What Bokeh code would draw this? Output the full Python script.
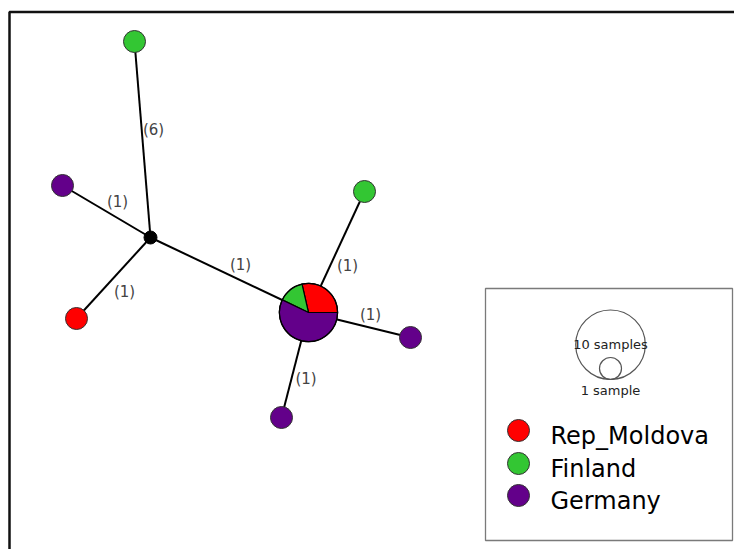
import numpy as np
from bokeh.plotting import figure
from bokeh.models import Range1d
from bokeh.core.properties import value
from bokeh.embed import file_html
from bokeh.resources import INLINE

# ---- data -------------------------------------------------------------
populations = ["Rep_Moldova", "Finland", "Germany"]
pop_colors = ["#ff0000", "#33c633", "#63008a"]

# haplotype nodes: layout position (network layout units) and sample counts per population
node_names = ["H1", "H2", "H3", "H4", "H5", "H6", "H7"]
node_x = [308, 134, 62, 76, 364, 410, 281]
node_y = [237, 508, 364, 231, 358, 212, 132]
count_moldova = [2, 0, 0, 1, 0, 0, 0]
count_finland = [1, 1, 0, 0, 1, 0, 0]
count_germany = [4, 0, 1, 0, 0, 1, 1]

# median (inferred) vertex
median_names = ["M1"]
median_x = [150]
median_y = [312]

# edges with number of mutations
edge_from = ["M1", "M1", "M1", "M1", "H1", "H1", "H1"]
edge_to = ["H2", "H3", "H4", "H1", "H5", "H6", "H7"]
edge_mutations = [6, 1, 1, 1, 1, 1, 1]

legend_sizes = [10, 1]
legend_size_labels = ["10 samples", "1 sample"]

# ---- figure -----------------------------------------------------------
W, H = 734, 549
p = figure(width=W, height=H, output_backend="svg", toolbar_location=None,
           x_range=Range1d(0, W), y_range=Range1d(0, H),
           x_axis_type=None, y_axis_type=None, min_border=0)
p.outline_line_color = None
p.grid.visible = False
p.background_fill_color = "white"

# outer frame (left and top edges visible)
p.line([9, 9, W + 20], [-20, 537.5, 537.5], line_color="#111111", line_width=2.5)

pos = {n: (x, y) for n, x, y in zip(node_names, node_x, node_y)}
pos.update({n: (x, y) for n, x, y in zip(median_names, median_x, median_y)})

R1 = 11.0  # radius of a single-sample node (px)
totals = [a + b + c for a, b, c in zip(count_moldova, count_finland, count_germany)]
radii = [R1 * np.sqrt(t) for t in totals]

# edges
xs = [[pos[a][0], pos[b][0]] for a, b in zip(edge_from, edge_to)]
ys = [[pos[a][1], pos[b][1]] for a, b in zip(edge_from, edge_to)]
p.multi_line(xs, ys, line_color="black", line_width=2)

# edge labels at midpoints
lx, ly, lt = [], [], []
for (x0, x1), (y0, y1), m in zip(xs, ys, edge_mutations):
    mx, my = (x0 + x1) / 2, (y0 + y1) / 2
    slope = (y1 - y0) / (x1 - x0) if x1 != x0 else 1.0
    lx.append(mx + 11)
    ly.append(my + 10 if slope < 0 else my - 14)
    lt.append(f"({m})")
p.text(lx, ly, text=lt, text_font=value("DejaVu Sans"), text_font_size="15px",
       text_color="#444444", text_align="center", text_baseline="middle")

# median vertex
p.scatter(median_x, median_y, size=13, fill_color="black", line_color="black")

# haplotype nodes: single-population nodes as circles, mixed nodes as pies
counts = list(zip(count_moldova, count_finland, count_germany))
for n, x, y, c, r, t in zip(node_names, node_x, node_y, counts, radii, totals):
    nonzero = [i for i, v in enumerate(c) if v > 0]
    if len(nonzero) == 1:
        p.circle(x=[x], y=[y], radius=r, fill_color=pop_colors[nonzero[0]],
                 line_color="#333333", line_width=1)
    else:
        start = 0.0
        for i, v in enumerate(c):
            if v == 0:
                continue
            end = start + 2 * np.pi * v / t
            p.wedge(x=[x], y=[y], radius=r, start_angle=start, end_angle=end,
                    fill_color=pop_colors[i], line_color="black", line_width=1.2)
            start = end
        p.circle(x=[x], y=[y], radius=r, fill_color=None, line_color="black", line_width=1.2)

# ---- legend box -------------------------------------------------------
p.quad(left=[485], right=[732], bottom=[9], top=[261], fill_color=None,
       line_color="#7a7a7a", line_width=1.3)

# size legend circles (bottoms aligned)
base_y = 170
lx0 = 610
for s in legend_sizes:
    r = R1 * np.sqrt(s)
    p.circle(x=[lx0], y=[base_y + r], radius=r, fill_color=None,
             line_color="#555555", line_width=1.2)
p.text([lx0], [base_y + R1 * np.sqrt(legend_sizes[0])], text=[legend_size_labels[0]],
       text_font=value("DejaVu Sans"), text_font_size="13px", text_color="#222222",
       text_align="center", text_baseline="middle")
p.text([lx0], [base_y - 11], text=[legend_size_labels[1]],
       text_font=value("DejaVu Sans"), text_font_size="13px", text_color="#222222",
       text_align="center", text_baseline="middle")

# population legend
leg_y = [119, 86, 54]
p.circle(x=[518] * 3, y=leg_y, radius=R1, fill_color=pop_colors,
         line_color="#333333", line_width=1)
p.text([550] * 3, [v - 5 for v in leg_y], text=populations,
       text_font=value("DejaVu Sans"), text_font_size="24px", text_color="black",
       text_align="left", text_baseline="middle")

open("out.html", "w").write(file_html(p, INLINE))
